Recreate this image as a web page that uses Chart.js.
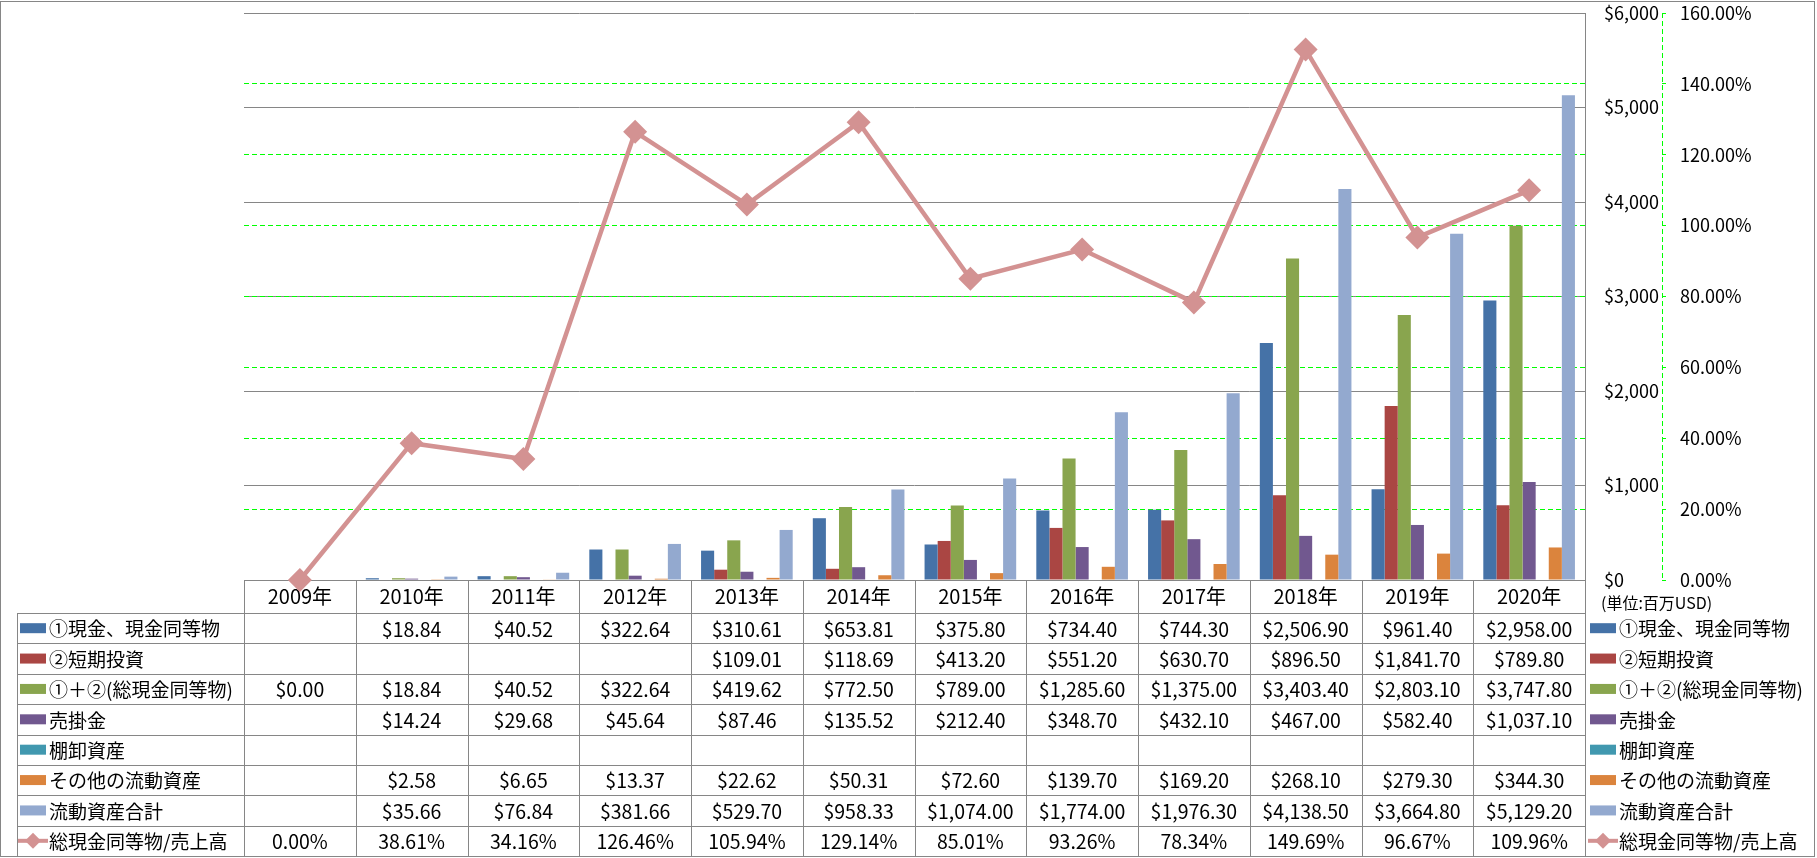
<!DOCTYPE html>
<html lang="ja">
<head>
<meta charset="UTF-8">
<title>流動資産の推移</title>
<script src="https://cdn.jsdelivr.net/npm/chart.js"></script>
<style>
  html, body { margin: 0; padding: 0; background: #fff; }
  canvas { display: block; }
</style>
</head>
<body>
<canvas id="assetChart" width="1817" height="858"></canvas>
<script>
// 単位: 百万USD
const years = ['2009年', '2010年', '2011年', '2012年', '2013年', '2014年', '2015年', '2016年', '2017年', '2018年', '2019年', '2020年'];
const cash = [null, 18.84, 40.52, 322.64, 310.61, 653.81, 375.80, 734.40, 744.30, 2506.90, 961.40, 2958.00];
const shortInvest = [null, null, null, null, 109.01, 118.69, 413.20, 551.20, 630.70, 896.50, 1841.70, 789.80];
const totalCash = [0.00, 18.84, 40.52, 322.64, 419.62, 772.50, 789.00, 1285.60, 1375.00, 3403.40, 2803.10, 3747.80];
const receivables = [null, 14.24, 29.68, 45.64, 87.46, 135.52, 212.40, 348.70, 432.10, 467.00, 582.40, 1037.10];
const inventory = [null, null, null, null, null, null, null, null, null, null, null, null];
const otherAssets = [null, 2.58, 6.65, 13.37, 22.62, 50.31, 72.60, 139.70, 169.20, 268.10, 279.30, 344.30];
const currentAssets = [null, 35.66, 76.84, 381.66, 529.70, 958.33, 1074.00, 1774.00, 1976.30, 4138.50, 3664.80, 5129.20];
const cashToSales = [0.00, 38.61, 34.16, 126.46, 105.94, 129.14, 85.01, 93.26, 78.34, 149.69, 96.67, 109.96];

const barNames = ['①現金、現金同等物', '②短期投資', '①＋②(総現金同等物)', '売掛金', '棚卸資産', 'その他の流動資産', '流動資産合計'];
const barSeries = [cash, shortInvest, totalCash, receivables, inventory, otherAssets, currentAssets];
const barColors = ['#4572A7', '#AA4643', '#89A54E', '#71588F', '#4198AF', '#DB843D', '#93A9CF'];
const lineName = '総現金同等物/売上高';
const lineColor = '#D39292';

const GRID = '#868686';
const FONT = '"Noto Sans CJK JP", "Noto Sans", sans-serif';
Chart.defaults.font.family = FONT;
Chart.defaults.font.size = 18;
Chart.defaults.color = '#000';

const money = v => v == null ? '' : '$' + v.toLocaleString('en-US', {minimumFractionDigits: 2, maximumFractionDigits: 2});
const pct = v => v == null ? '' : v.toFixed(2) + '%';

const tableRows = barNames.map((name, i) => ({name, color: barColors[i], values: barSeries[i], fmt: money, line: false}));
tableRows.push({name: lineName, color: lineColor, values: cashToSales, fmt: pct, line: true});

function drawKey(ctx, row, x, cy) {
  ctx.save();
  if (row.line) {
    ctx.strokeStyle = row.color;
    ctx.lineWidth = 4;
    ctx.beginPath();
    ctx.moveTo(x - 2, cy);
    ctx.lineTo(x + 28, cy);
    ctx.stroke();
    ctx.fillStyle = row.color;
    ctx.beginPath();
    ctx.moveTo(x + 13, cy - 8);
    ctx.lineTo(x + 21, cy);
    ctx.lineTo(x + 13, cy + 8);
    ctx.lineTo(x + 5, cy);
    ctx.closePath();
    ctx.fill();
  } else {
    ctx.fillStyle = row.color;
    ctx.fillRect(x, cy - 5, 26, 10);
  }
  ctx.restore();
}

// 軸ラベル分の余白を無くしてプロット領域の位置を固定する
function noLabelPadding(s) {
  s.paddingTop = 0;
  s.paddingBottom = 0;
  s.paddingLeft = 0;
  s.paddingRight = 0;
}

const tablePlugin = {
  id: 'dataTable',
  beforeDraw(chart) {
    const ctx = chart.ctx;
    ctx.save();
    ctx.fillStyle = '#fff';
    ctx.fillRect(0, 0, chart.width, chart.height);
    ctx.restore();
  },
  afterDraw(chart) {
    const {ctx} = chart;
    const x = chart.scales.x;
    const y1 = chart.scales.y1;
    const colW = x.width / years.length;
    const top = x.bottom;
    const bottom = 856;
    const rowH = (bottom - top) / tableRows.length;
    const labelLeft = 17;

    ctx.save();
    // 第2軸の破線
    ctx.strokeStyle = '#00FF00';
    ctx.lineWidth = 1;
    ctx.setLineDash([5, 3]);
    ctx.beginPath();
    ctx.moveTo(Math.round(y1.left) + 0.5, y1.top);
    ctx.lineTo(Math.round(y1.left) + 0.5, y1.bottom);
    ctx.stroke();
    ctx.setLineDash([]);

    // 表の罫線
    ctx.strokeStyle = GRID;
    ctx.beginPath();
    for (let i = 0; i <= years.length; i++) {
      const px = Math.round(x.left + i * colW) + 0.5;
      ctx.moveTo(px, x.top);
      ctx.lineTo(px, bottom);
    }
    ctx.moveTo(labelLeft + 0.5, top);
    ctx.lineTo(labelLeft + 0.5, bottom);
    for (let r = 0; r <= tableRows.length; r++) {
      const py = Math.round(top + r * rowH) + 0.5;
      ctx.moveTo(labelLeft, py);
      ctx.lineTo(x.right, py);
    }
    ctx.stroke();

    // 外枠
    ctx.strokeRect(0.5, 1.5, 1814, 855);

    ctx.fillStyle = '#000';
    ctx.textBaseline = 'middle';
    tableRows.forEach((row, r) => {
      const cy = top + r * rowH + rowH / 2;
      drawKey(ctx, row, 20, cy);
      drawKey(ctx, row, 1590, cy);
      ctx.fillStyle = '#000';
      ctx.font = '19px ' + FONT;
      ctx.textAlign = 'left';
      ctx.fillText(row.name, 49, cy + 1);
      ctx.fillText(row.name, 1619, cy + 1);
      ctx.font = '19.5px ' + FONT;
      ctx.textAlign = 'center';
      row.values.forEach((v, i) => {
        ctx.fillText(row.fmt(v), x.getPixelForValue(i), cy + 1);
      });
    });

    ctx.font = '16px ' + FONT;
    ctx.textAlign = 'left';
    ctx.fillText('(単位:百万USD)', 1601, 603);
    ctx.restore();
  }
};

const datasets = [{
  type: 'line',
  label: lineName,
  data: cashToSales,
  yAxisID: 'y1',
  order: 0,
  borderColor: lineColor,
  borderWidth: 4.5,
  tension: 0,
  pointStyle: 'rectRot',
  pointRadius: 12,
  pointBackgroundColor: lineColor,
  pointBorderColor: lineColor,
  pointBorderWidth: 0,
  clip: false
}];
barNames.forEach((name, i) => {
  datasets.push({
    type: 'bar',
    label: name,
    data: barSeries[i],
    yAxisID: 'y',
    order: 1,
    backgroundColor: barColors[i],
    borderWidth: 0,
    categoryPercentage: 0.82,
    barPercentage: 1.0
  });
});

new Chart(document.getElementById('assetChart'), {
  data: {labels: years, datasets},
  options: {
    responsive: false,
    devicePixelRatio: 1,
    animation: false,
    layout: {padding: {left: 244, top: 13, right: 0, bottom: 245}},
    plugins: {legend: {display: false}, tooltip: {enabled: false}},
    scales: {
      x: {
        grid: {display: false, drawTicks: false},
        border: {color: GRID},
        ticks: {padding: 4, maxRotation: 0, autoSkip: false, font: {size: 20}},
        afterFit: s => { s.height = 33; noLabelPadding(s); }
      },
      y: {
        position: 'right',
        min: 0,
        max: 6000,
        ticks: {stepSize: 1000, padding: 19, callback: v => '$' + v.toLocaleString('en-US')},
        grid: {color: GRID, drawTicks: false},
        border: {color: GRID},
        afterFit: s => { s.width = 77; noLabelPadding(s); }
      },
      y1: {
        position: 'right',
        min: 0,
        max: 160,
        ticks: {stepSize: 20, padding: 14, callback: v => v.toFixed(2) + '%'},
        grid: {
          color: c => (c.tick && (c.tick.value === 0 || c.tick.value === 160)) ? 'rgba(0,0,0,0)' : '#00FF00',
          tickColor: '#00FF00',
          tickLength: 4
        },
        border: {display: false, dash: [5, 3]},
        afterFit: s => { s.width = 155; noLabelPadding(s); }
      }
    }
  },
  plugins: [tablePlugin]
});
</script>
</body>
</html>
